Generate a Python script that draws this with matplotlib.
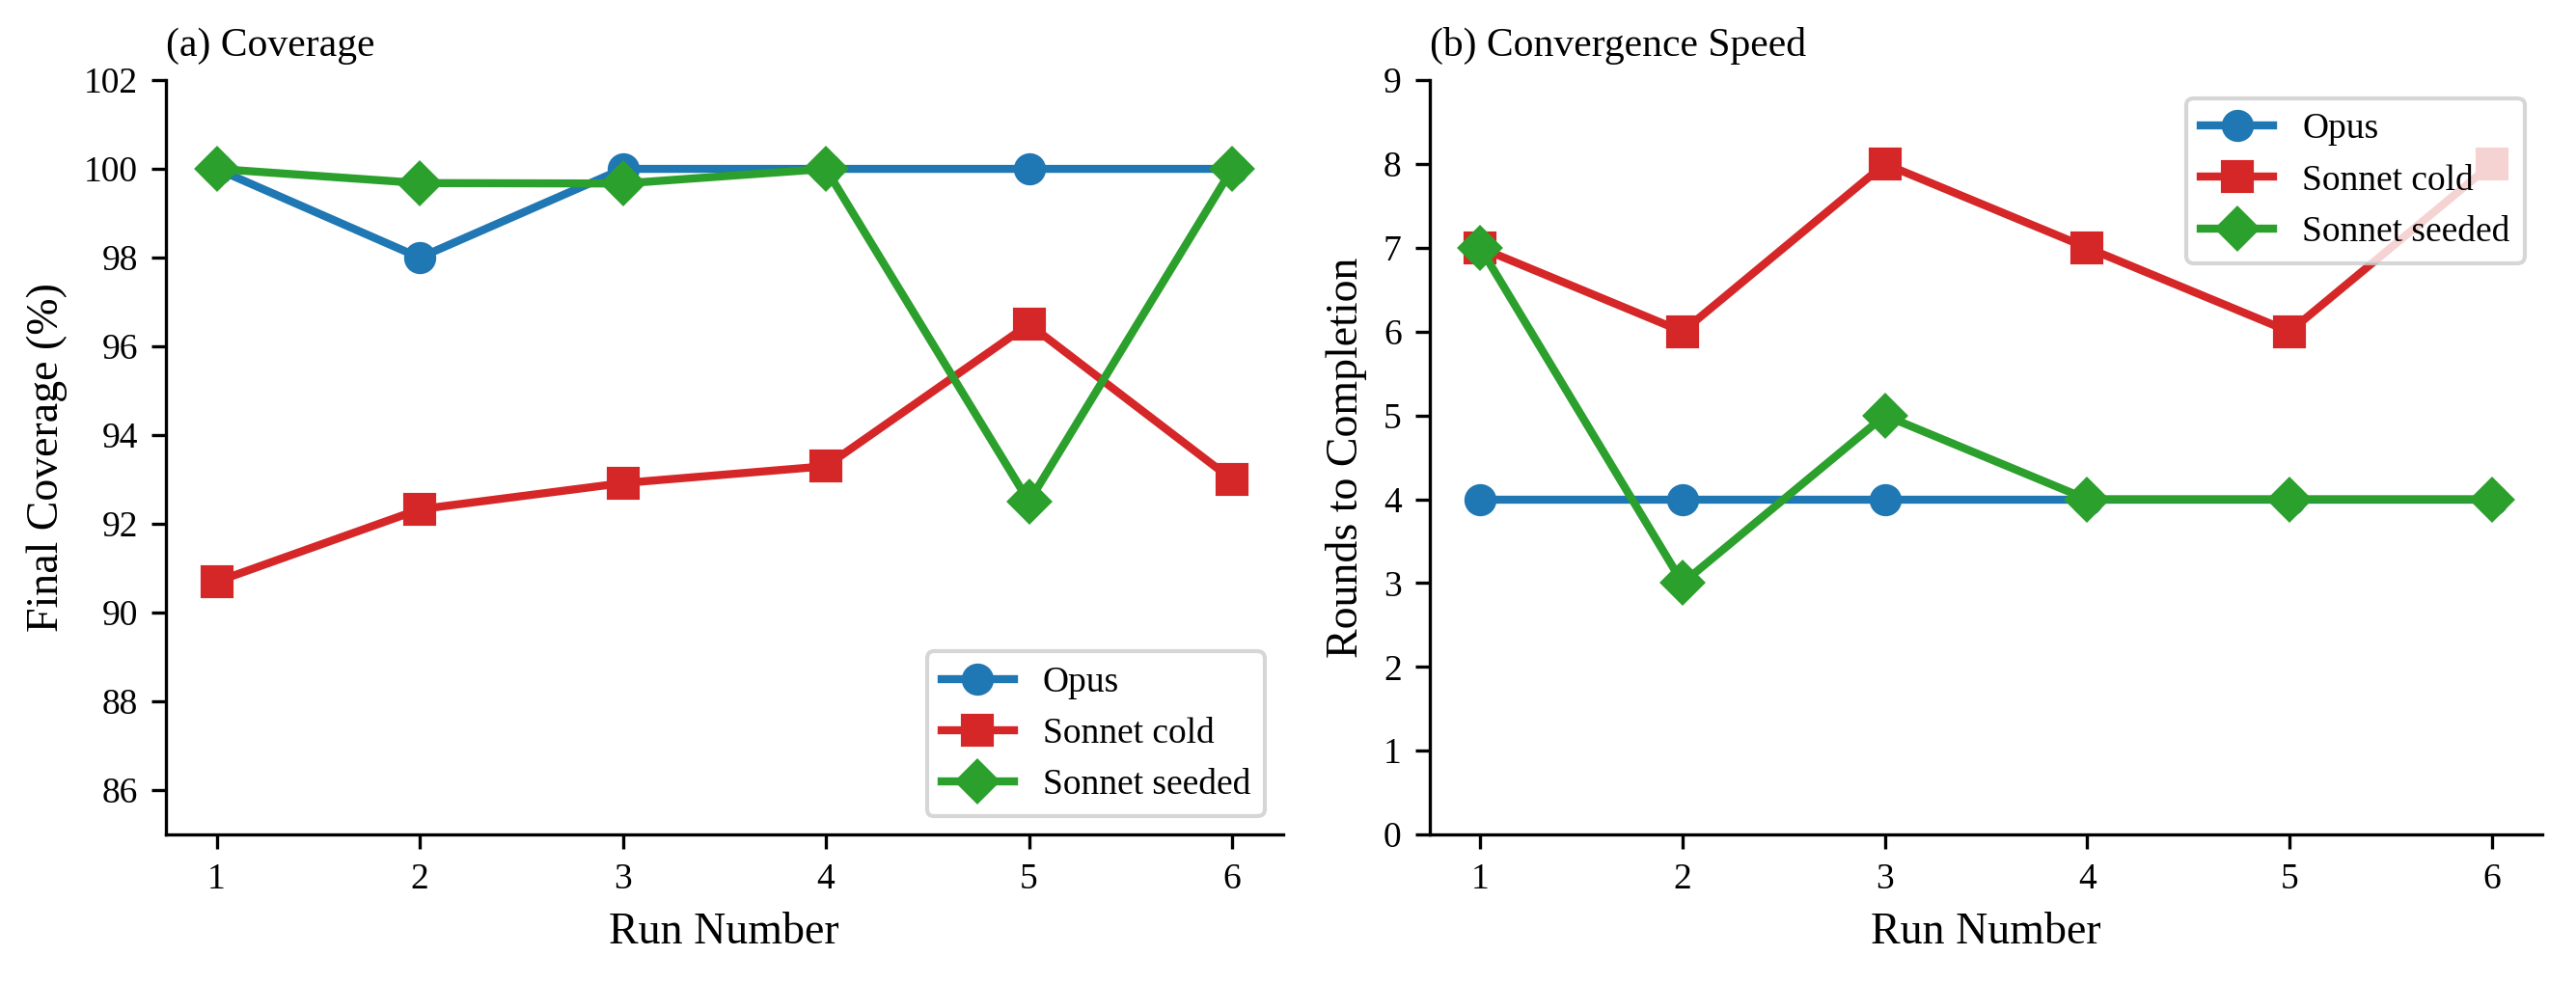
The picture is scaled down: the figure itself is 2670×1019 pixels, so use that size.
import matplotlib.pyplot as plt

plt.rcParams['font.family'] = ['Liberation Serif', 'DejaVu Serif']

runs = [1, 2, 3, 4, 5, 6]

# (a) final coverage, %
cov_opus = [100, 98, 100, 100, 100, 100]
cov_cold = [90.7, 92.33, 92.92, 93.3, 96.5, 93.0]
cov_seeded = [100, 99.68, 99.67, 100, 92.5, 100]

# (b) rounds to completion
rounds_opus = [4, 4, 4, 4, 4, 4]
rounds_cold = [7, 6, 8, 7, 6, 8]
rounds_seeded = [7, 3, 5, 4, 4, 4]

names = ['Opus', 'Sonnet cold', 'Sonnet seeded']
colors = ['#1f77b4', '#d62728', '#2ca02c']
markers = ['o', 's', 'D']

fig = plt.figure(figsize=(2670 / 300, 1019 / 300), dpi=300)
ax1 = fig.add_axes([0.0644, 0.151, 0.4336, 0.7675])
ax2 = fig.add_axes([0.555, 0.151, 0.432, 0.7675])

for ax, series in [(ax1, [cov_opus, cov_cold, cov_seeded]),
                   (ax2, [rounds_opus, rounds_cold, rounds_seeded])]:
    for vals, name, c, m in zip(series, names, colors, markers):
        ax.plot(runs, vals, color=c, marker=m, lw=2, markersize=7, label=name)
    ax.spines['top'].set_visible(False)
    ax.spines['right'].set_visible(False)
    ax.set_xticks(runs)
    ax.tick_params(labelsize=9)
    ax.set_xlabel('Run Number', fontsize=11)

ax1.set_ylim(85, 102)
ax1.set_yticks(range(86, 103, 2))
ax1.set_ylabel('Final Coverage (%)', fontsize=11)
ax1.set_title('(a) Coverage', loc='left', fontsize=10)
ax1.legend(loc='lower right', fontsize=9)

ax2.set_ylim(0, 9)
ax2.set_yticks(range(0, 10))
ax2.set_ylabel('Rounds to Completion', fontsize=11)
ax2.set_title('(b) Convergence Speed', loc='left', fontsize=10)
ax2.legend(loc='upper right', fontsize=9)

fig.savefig('out.png', dpi=300)
